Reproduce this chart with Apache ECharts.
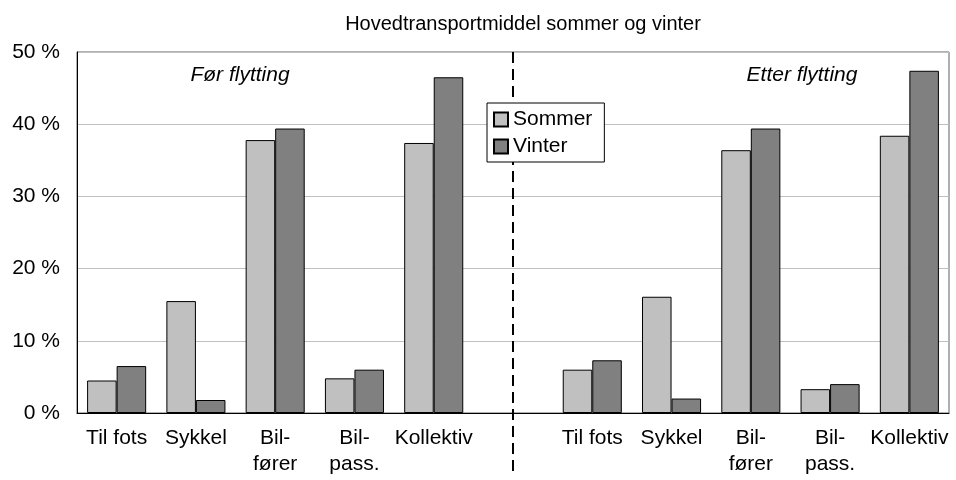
<!DOCTYPE html>
<html>
<head>
<meta charset="utf-8">
<script src="https://cdn.jsdelivr.net/npm/echarts@6/dist/echarts.min.js"></script>
<style>
  html, body { margin: 0; padding: 0; background: #fff; }
  #main { width: 956px; height: 480px; }
</style>
</head>
<body>
<div id="main"></div>
<script>
const chartDom = document.getElementById("main");
const myChart = echarts.init(chartDom);

// kategorier: før flytting, tomt felt, etter flytting
const categories = ["Til fots", "Sykkel", "Bil-\nfører", "Bil-\npass.", "Kollektiv", "",
  "Til fots", "Sykkel", "Bil-\nfører", "Bil-\npass.", "Kollektiv"];
const sommer = [4.5, 15.5, 37.8, 4.8, 37.4, null, 6.0, 16.1, 36.4, 3.3, 38.4];
const vinter = [6.5, 1.8, 39.4, 6.0, 46.5, null, 7.3, 2.0, 39.4, 4.0, 47.4];
const yTicks = [0, 10, 20, 30, 40, 50];
const gapIndex = 5;

const font = "'Liberation Sans', Arial, sans-serif";

const option = {
  animation: false,
  textStyle: { fontFamily: font },
  title: {
    text: "Hovedtransportmiddel sommer og vinter",
    left: 518,
    top: 9,
    textAlign: "center",
    textStyle: { fontFamily: font, fontSize: 20, fontWeight: "normal", color: "#000" }
  },
  grid: {
    left: 77, right: 7, top: 52, bottom: 67,
    show: true, borderColor: "#606060", borderWidth: 1
  },
  legend: {
    orient: "vertical",
    left: 487, top: 103,
    z: 10,
    padding: [6, 12, 5, 6],
    itemGap: 6,
    itemWidth: 14, itemHeight: 14,
    icon: "rect",
    backgroundColor: "#fff",
    borderColor: "#000", borderWidth: 1, borderRadius: 0,
    textStyle: { fontFamily: font, fontSize: 21, color: "#000" },
    data: ["Sommer", "Vinter"]
  },
  xAxis: {
    type: "category",
    data: categories,
    axisLine: { lineStyle: { color: "#000", width: 1 } },
    axisTick: { show: false },
    axisLabel: {
      interval: 0, color: "#000", fontSize: 21, lineHeight: 26, margin: 12,
      fontFamily: font
    }
  },
  yAxis: {
    type: "value",
    min: yTicks[0], max: yTicks[yTicks.length - 1], interval: 10,
    axisLine: { show: true, lineStyle: { color: "#000", width: 1 } },
    axisTick: { show: false },
    splitLine: { lineStyle: { color: "#c0c0c0", width: 1 } },
    axisLabel: { formatter: "{value} %", color: "#000", fontSize: 21, margin: 17, fontFamily: font }
  },
  series: [
    {
      name: "Sommer", type: "bar", data: sommer,
      barGap: "0%", barCategoryGap: "25.5%",
      itemStyle: { color: "#c0c0c0", borderColor: "#000", borderWidth: 1 }
    },
    {
      name: "Vinter", type: "bar", data: vinter,
      itemStyle: { color: "#808080", borderColor: "#000", borderWidth: 1 }
    }
  ]
};

option && myChart.setOption(option);

// skillelinje plassert via aksen
const xGap = myChart.convertToPixel({ xAxisIndex: 0 }, gapIndex);
const yTop = myChart.convertToPixel({ yAxisIndex: 0 }, yTicks[yTicks.length - 1]);

myChart.setOption({
  graphic: [
    {
      type: "line", z: 3,
      shape: { x1: xGap, y1: yTop, x2: xGap, y2: 474 },
      style: { stroke: "#000", lineWidth: 2, lineDash: [11, 6] }
    },
    {
      type: "text", x: 240, y: 75,
      style: { text: "Før flytting", font: "italic 21px " + font, fill: "#000", textAlign: "center", textVerticalAlign: "middle" }
    },
    {
      type: "text", x: 802, y: 75,
      style: { text: "Etter flytting", font: "italic 21px " + font, fill: "#000", textAlign: "center", textVerticalAlign: "middle" }
    }
  ]
});
</script>
</body>
</html>
